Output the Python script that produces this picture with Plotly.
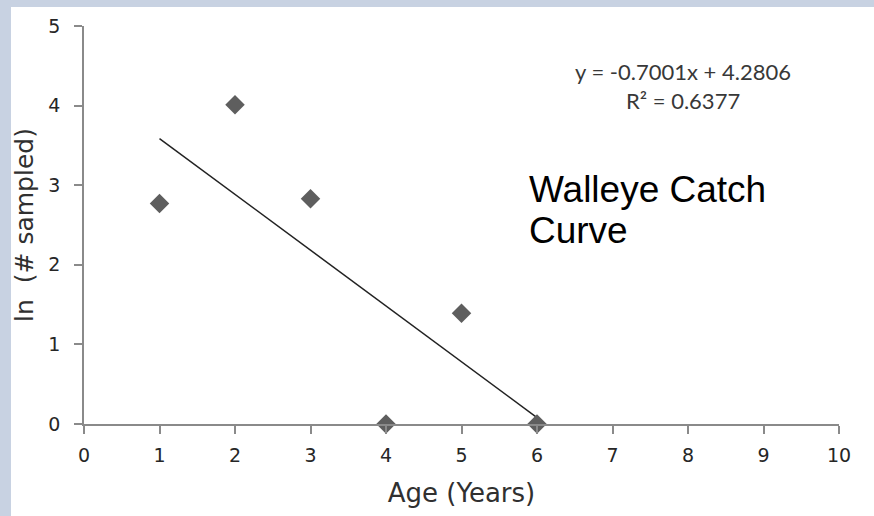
import numpy as np
import plotly.graph_objects as go

ages = [1, 2, 3, 4, 5, 6]
ln_sampled = [2.77, 4.01, 2.83, 0.0, 1.39, 0.0]
x_ticks = [0, 1, 2, 3, 4, 5, 6, 7, 8, 9, 10]
y_ticks = [0, 1, 2, 3, 4, 5]
equation_text = "y = -0.7001x + 4.2806"
r2_text = "R² = 0.6377"
chart_title = ["Walleye Catch", "Curve"]

slope, intercept = np.polyfit(ages, ln_sampled, 1)
trend_x = [min(ages), max(ages)]
trend_y = [slope * v + intercept for v in trend_x]

W, H = 874, 516
ml, mr, mt, mb = 84, 35, 26, 92
pw, ph = W - ml - mr, H - mt - mb

def px_x(px):
    return (px - ml) / pw

def px_y(py):
    return (H - mb - py) / ph

fig = go.Figure()
fig.add_trace(go.Scatter(x=trend_x, y=trend_y, mode="lines",
                         line=dict(color="#222222", width=1.5),
                         showlegend=False, hoverinfo="skip"))
fig.add_trace(go.Scatter(x=ages, y=ln_sampled, mode="markers",
                         marker=dict(symbol="diamond", size=15, color="#5e5e5e"),
                         showlegend=False, cliponaxis=False))

axis_common = dict(showline=True, linecolor="#8a8a8a", linewidth=1.5,
                   ticks="outside", ticklen=8, tickwidth=1.5, tickcolor="#8a8a8a",
                   showgrid=False, zeroline=False,
                   tickfont=dict(family="DejaVu Sans", size=19, color="#262626"))

fig.update_layout(
    width=W, height=H,
    margin=dict(l=ml, r=mr, t=mt, b=mb),
    paper_bgcolor="#c8d2e2",
    plot_bgcolor="white",
    xaxis=dict(range=[0, 10], tickvals=x_ticks, ticklabelstandoff=5,
               title=dict(text="Age (Years)", standoff=19,
                          font=dict(family="DejaVu Sans", size=26, color="#303030")),
               **axis_common),
    yaxis=dict(range=[0, 5], tickvals=y_ticks, ticklabelstandoff=10,
               title=dict(text="ln  (# sampled)", standoff=8,
                          font=dict(family="DejaVu Sans", size=25, color="#303030")),
               **axis_common),
    shapes=[dict(type="rect", xref="paper", yref="paper",
                 x0=px_x(11), x1=px_x(880), y0=px_y(7), y1=px_y(530),
                 fillcolor="white", line=dict(width=0), layer="below")],
    annotations=[
        dict(text=equation_text, xref="paper", yref="paper", x=px_x(683), y=px_y(72),
             xanchor="center", yanchor="middle", showarrow=False,
             font=dict(family="Lato", size=22, color="#383838")),
        dict(text=r2_text, xref="paper", yref="paper", x=px_x(683), y=px_y(100),
             xanchor="center", yanchor="middle", showarrow=False,
             font=dict(family="Lato", size=22, color="#383838")),
        dict(text=chart_title[0], xref="paper", yref="paper", x=px_x(527), y=px_y(189),
             xanchor="left", yanchor="middle", showarrow=False,
             font=dict(family="Liberation Sans", size=37, color="black")),
        dict(text=chart_title[1], xref="paper", yref="paper", x=px_x(527), y=px_y(231),
             xanchor="left", yanchor="middle", showarrow=False,
             font=dict(family="Liberation Sans", size=37, color="black")),
    ],
)

fig.write_html("out.html", config={"displayModeBar": False},
               post_script="document.body.style.margin='0';document.body.style.overflow='hidden';")
